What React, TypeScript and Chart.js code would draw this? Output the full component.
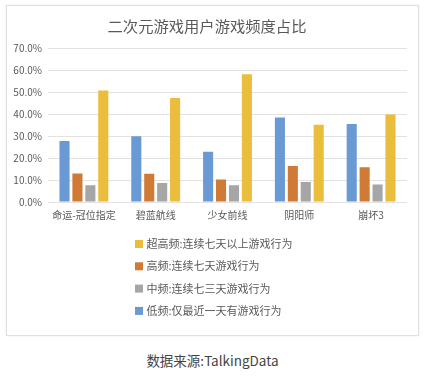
import React, { useEffect, useRef } from "react";
import { Chart, registerables } from "chart.js";

Chart.register(...registerables);

const titleText = "二次元游戏用户游戏频度占比";
const sourceText = "数据来源:TalkingData";
const categories = ["命运-冠位指定", "碧蓝航线", "少女前线", "阴阳师", "崩坏3"];
// series in bar order (left to right within a group)
const seriesNames = [
  "低频:仅最近一天有游戏行为",
  "高频:连续七天游戏行为",
  "中频:连续七三天游戏行为",
  "超高频:连续七天以上游戏行为",
];
const lowValues = [27.8, 30.0, 22.9, 38.5, 35.5];
const highValues = [13.0, 12.9, 10.3, 16.4, 15.8];
const midValues = [7.6, 8.6, 7.6, 9.1, 8.0];
const ultraValues = [50.8, 47.4, 58.2, 35.2, 39.9];
const seriesColors = ["#6a9ad3", "#cf7a35", "#a6a6a6", "#ebbd3d"];
// legend rows, top to bottom, as indexes into the series
const legendOrder = [3, 1, 2, 0];
const yTicks = [0, 10, 20, 30, 40, 50, 60, 70];

const FONT = "'Noto Sans CJK SC', 'Noto Sans', sans-serif";
const TEXT_COLOR = "#595959";

const legendPlugin = {
  id: "verticalLegend",
  afterDraw(chart: any) {
    const ctx = chart.ctx;
    const ds = chart.data.datasets;
    ctx.save();
    ctx.font = `11px ${FONT}`;
    ctx.textBaseline = "middle";
    ctx.textAlign = "left";
    legendOrder.forEach((idx: number, row: number) => {
      const cy = 238 + row * 22.3;
      ctx.fillStyle = ds[idx].backgroundColor;
      ctx.fillRect(128, cy - 4, 8, 8);
      ctx.fillStyle = TEXT_COLOR;
      ctx.fillText(ds[idx].label, 139.5, cy);
    });
    ctx.restore();
  },
};

export default function App() {
  const canvasRef = useRef<HTMLCanvasElement | null>(null);

  useEffect(() => {
    if (!canvasRef.current) return;
    const valuesList = [lowValues, highValues, midValues, ultraValues];
    const chart = new Chart(canvasRef.current, {
      type: "bar",
      data: {
        labels: categories,
        datasets: valuesList.map((vals, i) => ({
          label: seriesNames[i],
          data: vals,
          backgroundColor: seriesColors[i],
          categoryPercentage: 0.72,
          barPercentage: 0.78,
        })),
      },
      options: {
        animation: false,
        responsive: false,
        maintainAspectRatio: false,
        layout: { padding: { left: 0, right: 11, top: 0, bottom: 113 } },
        plugins: {
          legend: { display: false },
          tooltip: { enabled: false },
          title: {
            display: true,
            text: titleText,
            color: TEXT_COLOR,
            font: { family: FONT, size: 15.3, weight: "normal" },
            padding: { top: 10.5, bottom: 13.5 },
          },
        },
        scales: {
          x: {
            grid: { display: false, drawTicks: false },
            border: { display: false },
            ticks: {
              color: TEXT_COLOR,
              font: { family: FONT, size: 10 },
              padding: 7,
              maxRotation: 0,
              autoSkip: false,
            },
            afterFit(scale: any) {
              scale.height = 20;
            },
          },
          y: {
            min: 0,
            max: 70,
            afterBuildTicks(scale: any) {
              scale.ticks = yTicks.map((v) => ({ value: v }));
            },
            grid: { color: "#e2e2e2", drawTicks: false, lineWidth: 1 },
            border: { display: false },
            ticks: {
              color: TEXT_COLOR,
              font: { family: FONT, size: 10 },
              padding: 6,
              callback: (v: any) => Number(v).toFixed(1) + "%",
            },
            afterFit(scale: any) {
              scale.width = 41;
            },
          },
        },
      },
      plugins: [legendPlugin],
    });
    return () => chart.destroy();
  }, []);

  return (
    <div
      style={{
        position: "absolute",
        left: 0,
        top: 0,
        width: 425,
        height: 377,
        background: "#fff",
        fontFamily: FONT,
      }}
    >
      <div
        style={{
          position: "absolute",
          left: 6,
          top: 5,
          width: 413,
          height: 331,
          boxSizing: "border-box",
          border: "1px solid #e0e0e0",
          boxShadow: "0 0 2px rgba(0,0,0,0.08)",
        }}
      >
        <canvas ref={canvasRef} width={411} height={329} style={{ display: "block" }} />
      </div>
      <div
        style={{
          position: "absolute",
          left: 0,
          width: 425,
          top: 350,
          textAlign: "center",
          fontSize: 13.5,
          lineHeight: "20px",
          color: "#444",
        }}
      >
        {sourceText}
      </div>
    </div>
  );
}
